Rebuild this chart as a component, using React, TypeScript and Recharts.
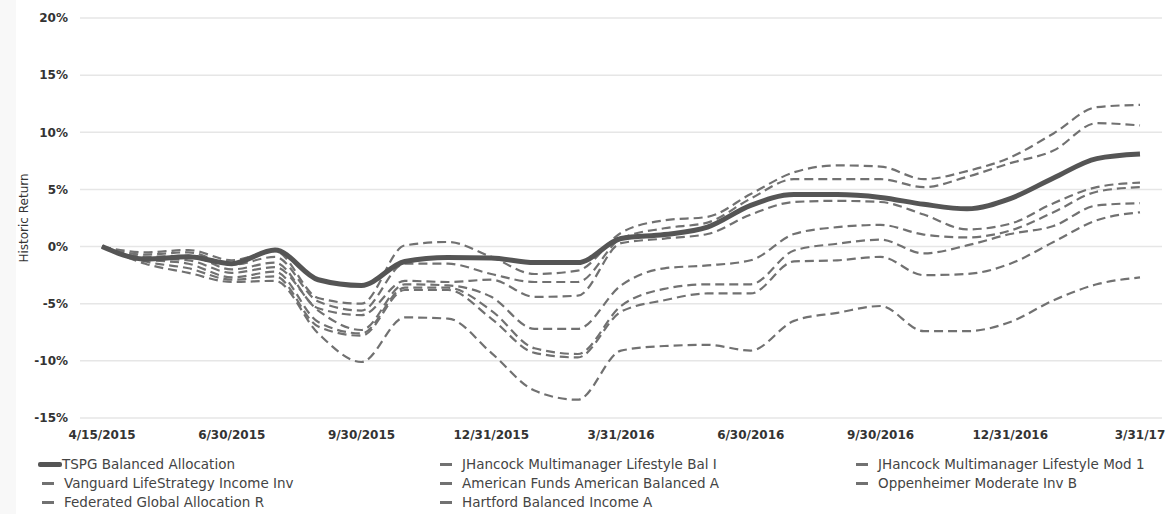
import React from 'react';
import { LineChart, Line, XAxis, YAxis, CartesianGrid, Label } from 'recharts';

// month-end dates (first point is the inception date)
const dates = [
  '4/15/2015', '4/30/2015', '5/31/2015', '6/30/2015', '7/31/2015', '8/31/2015',
  '9/30/2015', '10/31/2015', '11/30/2015', '12/31/2015', '1/31/2016', '2/29/2016',
  '3/31/2016', '4/30/2016', '5/31/2016', '6/30/2016', '7/31/2016', '8/31/2016',
  '9/30/2016', '10/31/2016', '11/30/2016', '12/31/2016', '1/31/2017', '2/28/2017',
  '3/31/2017',
];

const xTickLabels = [
  '4/15/2015', '6/30/2015', '9/30/2015', '12/31/2015', '3/31/2016',
  '6/30/2016', '9/30/2016', '12/31/2016', '3/31/17',
];
const yTicks = [-15, -10, -5, 0, 5, 10, 15, 20];

// cumulative return, %
const tspg        = [0, -1.1, -0.9, -1.5, -0.3, -2.9, -3.4, -1.3, -0.95, -1.0, -1.4, -1.4, 0.7, 1.05, 1.7, 3.6, 4.55, 4.55, 4.3, 3.7, 3.3, 4.2, 6.0, 7.7, 8.1];
const jhBal       = [0, -0.5, -0.3, -1.2, -0.4, -4.5, -5.0, 0.1, 0.4, -0.9, -2.4, -2.1, 1.2, 2.3, 2.6, 4.6, 6.5, 7.1, 7.0, 5.9, 6.6, 7.8, 9.9, 12.2, 12.4];
const amFunds     = [0, -0.7, -0.5, -1.6, -0.9, -4.8, -5.6, -1.5, -1.5, -2.4, -3.1, -3.1, 0.7, 1.6, 2.1, 4.2, 5.9, 5.9, 5.9, 5.2, 6.1, 7.3, 8.4, 10.8, 10.6];
const jhMod       = [0, -0.9, -0.8, -2.0, -1.4, -5.4, -6.0, -3.0, -3.1, -2.9, -4.4, -4.3, 0.3, 0.7, 1.1, 2.8, 3.9, 4.0, 3.9, 2.8, 1.5, 2.0, 3.8, 5.2, 5.6];
const federated   = [0, -1.0, -1.2, -2.3, -1.8, -5.6, -7.3, -3.3, -3.4, -4.4, -7.2, -7.2, -3.4, -1.9, -1.65, -1.2, 1.1, 1.7, 1.9, 1.05, 0.8, 1.4, 3.0, 4.8, 5.2];
const vanguard    = [0, -1.1, -1.5, -2.7, -2.2, -6.6, -7.6, -3.6, -3.6, -5.6, -8.9, -9.4, -5.2, -3.7, -3.3, -3.3, -0.35, 0.25, 0.6, -0.6, 0.1, 1.1, 1.8, 3.6, 3.8];
const hartford    = [0, -1.3, -1.9, -2.9, -2.6, -7.0, -7.8, -3.8, -3.8, -6.3, -9.3, -9.7, -5.7, -4.7, -4.1, -4.1, -1.3, -1.2, -0.9, -2.5, -2.4, -1.5, 0.4, 2.3, 3.0];
const oppenheimer = [0, -1.5, -2.3, -3.1, -3.0, -7.6, -10.1, -6.2, -6.3, -9.3, -12.6, -13.4, -9.1, -8.7, -8.6, -9.1, -6.5, -5.8, -5.2, -7.4, -7.4, -6.6, -4.7, -3.3, -2.7];

// legend order (row-major, 3 columns)
const series = [
  { key: 'tspg', name: 'TSPG Balanced Allocation', values: tspg, main: true },
  { key: 'jhBal', name: 'JHancock Multimanager Lifestyle Bal I', values: jhBal },
  { key: 'jhMod', name: 'JHancock Multimanager Lifestyle Mod 1', values: jhMod },
  { key: 'vanguard', name: 'Vanguard LifeStrategy Income Inv', values: vanguard },
  { key: 'amFunds', name: 'American Funds American Balanced A', values: amFunds },
  { key: 'oppenheimer', name: 'Oppenheimer Moderate Inv B', values: oppenheimer },
  { key: 'federated', name: 'Federated Global Allocation R', values: federated },
  { key: 'hartford', name: 'Hartford Balanced Income A', values: hartford },
];

const data = dates.map((d, i) => {
  const row: Record<string, string | number> = { date: d };
  series.forEach((s) => { row[s.key] = s.values[i]; });
  return row;
});

const xTicks = dates.filter((_, i) => i % 3 === 0);

const FONT = '"DejaVu Sans", Verdana, sans-serif';
const MAIN = '#555555';
const DASH = '#717171';

const colX = [38, 436, 852];
const rowY = [464, 483, 502];

function LegendBlock() {
  return (
    <>
      {series.map((s, i) => {
        const col = i % 3;
        const row = Math.floor(i / 3);
        const x = colX[col];
        const y = rowY[row];
        return (
          <div key={s.key} style={{ position: 'absolute', left: x, top: y - 9, height: 18, display: 'flex', alignItems: 'center' }}>
            {s.main ? (
              <span style={{ width: 24, height: 5, background: MAIN, borderRadius: 2, display: 'inline-block' }} />
            ) : (
              <span style={{ width: 12, height: 3, background: DASH, marginLeft: 4, marginRight: 8, display: 'inline-block' }} />
            )}
            <span style={{ fontFamily: FONT, fontSize: 13.5, color: '#444', marginLeft: s.main ? 0 : 2, whiteSpace: 'nowrap' }}>
              {s.name}
            </span>
          </div>
        );
      })}
    </>
  );
}

export default function App() {
  return (
    <div style={{ position: 'fixed', left: 0, top: 0, width: 1175, height: 514, background: '#fff' }}>
      <div style={{ position: 'absolute', left: 0, top: 0, width: 16, height: 514, background: '#f8f8f8' }} />
      <LineChart width={1175} height={514} data={data} margin={{ top: 18, right: 13, left: 0, bottom: 66 }}>
        <CartesianGrid vertical={false} stroke="#e6e6e6" strokeWidth={1.5} />
        <XAxis
          dataKey="date"
          ticks={xTicks}
          interval={0}
          tickFormatter={(v) => xTickLabels[xTicks.indexOf(v)] ?? v}
          axisLine={false}
          tickLine={false}
          tickSize={0}
          tickMargin={12}
          padding={{ left: 22, right: 22 }}
          height={30}
          tick={{ fill: '#333', fontSize: 12, fontWeight: 'bold', fontFamily: FONT }}
        />
        <YAxis
          domain={[-15, 20]}
          ticks={yTicks}
          width={80}
          axisLine={false}
          tickLine={false}
          tickSize={0}
          tickMargin={12}
          tickFormatter={(v) => `${v}%`}
          tick={{ fill: '#333', fontSize: 12, fontWeight: 'bold', fontFamily: FONT }}
        >
          <Label
            value="Historic Return"
            angle={-90}
            position="insideLeft"
            offset={24}
            style={{ textAnchor: 'middle', fill: '#333', fontSize: 12, fontFamily: FONT }}
          />
        </YAxis>
        {series.filter((s) => !s.main).map((s) => (
          <Line
            key={s.key}
            dataKey={s.key}
            name={s.name}
            type="monotone"
            stroke={DASH}
            strokeWidth={2.2}
            strokeDasharray="9 5"
            dot={false}
            isAnimationActive={false}
          />
        ))}
        <Line
          dataKey="tspg"
          name="TSPG Balanced Allocation"
          type="monotone"
          stroke={MAIN}
          strokeWidth={5}
          dot={false}
          isAnimationActive={false}
        />
      </LineChart>
      <LegendBlock />
    </div>
  );
}
